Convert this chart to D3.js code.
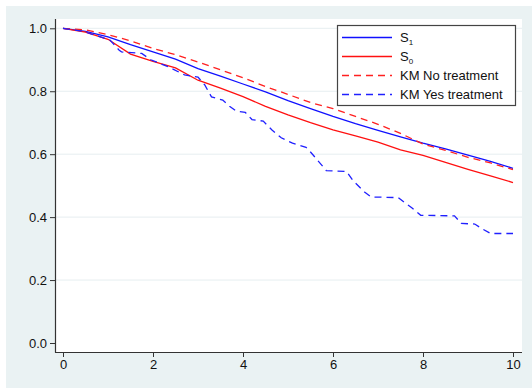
<!DOCTYPE html>
<html>
  <head>
    <meta charset="utf-8">
    <title></title>
    <script src="https://cdn.jsdelivr.net/npm/d3@7/dist/d3.min.js" charset="utf-8"></script>
    <style>
      body{margin:0;background:#fff;}
      text{font-family:"Liberation Sans", Arial, sans-serif;}
    </style>
    <script>
    // time points for the smooth curves
    let tGrid=[0, 0.5, 1, 1.5, 2, 2.5, 3, 3.5, 4, 4.5, 5, 5.5, 6, 6.5, 7, 7.5, 8, 8.5, 9, 9.5, 10];
    let s1=[1.0, 0.99, 0.973, 0.948, 0.925, 0.902, 0.872, 0.848, 0.823, 0.798, 0.77, 0.745, 0.72, 0.697, 0.676, 0.655, 0.635, 0.617, 0.597, 0.577, 0.555];
    let s0=[1.0, 0.988, 0.965, 0.918, 0.895, 0.874, 0.835, 0.81, 0.783, 0.752, 0.725, 0.70, 0.677, 0.658, 0.638, 0.614, 0.596, 0.574, 0.552, 0.531, 0.51];
    let kmNo=[1.0, 0.995, 0.98, 0.96, 0.936, 0.916, 0.893, 0.868, 0.843, 0.815, 0.79, 0.764, 0.745, 0.72, 0.695, 0.666, 0.632, 0.612, 0.59, 0.572, 0.551];

    // KM treated group has its own (coarser) time points
    let tYes=[0, 0.45, 0.85, 1.05, 1.25, 1.3, 1.75, 1.95, 2.35, 2.7, 3.0, 3.15, 3.3, 3.55, 3.7, 3.85, 4.05, 4.2, 4.45, 4.65, 4.85, 5.1, 5.4, 5.5, 5.65, 5.85, 6.3, 6.45, 6.7, 6.85, 7.45, 7.6, 7.75, 7.95, 8.7, 8.85, 9.15, 9.3, 9.5, 10];
    let kmYes=[1.0, 0.99, 0.972, 0.962, 0.93, 0.925, 0.92, 0.9, 0.877, 0.852, 0.845, 0.82, 0.782, 0.772, 0.752, 0.737, 0.733, 0.71, 0.705, 0.676, 0.652, 0.635, 0.622, 0.607, 0.582, 0.548, 0.545, 0.515, 0.48, 0.464, 0.462, 0.445, 0.43, 0.406, 0.404, 0.38, 0.378, 0.364, 0.348, 0.348];

    let xTicks=[0, 2, 4, 6, 8, 10];
    let yTicks=[0, 0.2, 0.4, 0.6, 0.8, 1.0];

    let legendNames=['S1', 'S0', 'KM No treatment', 'KM Yes treatment'];

    window.onload=function (){
      let svg=d3.select('body').append('svg').attr('width', 532).attr('height', 388);

      //background: graph region and plot region
      svg.append('rect').attr('x', 6).attr('y', 6).attr('width', 526).attr('height', 382).attr('fill', '#eaf2f3');
      svg.append('rect').attr('x', 55).attr('y', 19).attr('width', 467).attr('height', 333).attr('fill', '#fff');

      let x=d3.scaleLinear().domain([0, 10]).range([63, 513]);
      let y=d3.scaleLinear().domain([0, 1]).range([343, 28.3]);

      //grid lines
      svg.append('g').selectAll('line').data(yTicks.filter(d=>d>0)).enter().append('line')
        .attr('x1', 55).attr('x2', 522)
        .attr('y1', d=>y(d)).attr('y2', d=>y(d))
        .attr('stroke', '#e6eef0').attr('stroke-width', 1);

      //axes
      let yAxis=d3.axisLeft(y).tickValues(yTicks).tickFormat(d3.format('.1f')).tickSize(5).tickPadding(3);
      let xAxis=d3.axisBottom(x).tickValues(xTicks).tickFormat(d3.format('d')).tickSize(5).tickPadding(3);

      let gy=svg.append('g').attr('transform', 'translate(55,0)').call(yAxis);
      let gx=svg.append('g').attr('transform', 'translate(0,352)').call(xAxis);

      [gx, gy].forEach(g=>{
        g.select('.domain').remove();
        g.selectAll('line').attr('stroke', '#333');
        g.selectAll('text').attr('fill', '#111').style('font-size', '13px').style('font-family', '"Liberation Sans", Arial, sans-serif');
      });

      svg.append('line').attr('x1', 55.5).attr('x2', 55.5).attr('y1', 19).attr('y2', 352.5).attr('stroke', '#333').attr('stroke-width', 1.2);
      svg.append('line').attr('x1', 55).attr('x2', 522).attr('y1', 352.5).attr('y2', 352.5).attr('stroke', '#333').attr('stroke-width', 1.2);

      //curves
      let line=d3.line().x(d=>x(d[0])).y(d=>y(d[1]));

      let series=[
        {t: tGrid, v: s1, color: '#1010ff', dash: null},
        {t: tGrid, v: s0, color: '#ff1010', dash: null},
        {t: tGrid, v: kmNo, color: '#ff2020', dash: '7,5'},
        {t: tYes, v: kmYes, color: '#2020ff', dash: '7,5'}
      ];

      series.forEach(s=>{
        let pts=s.t.map((t, i)=>[t, s.v[i]]);
        svg.append('path')
          .attr('d', line(pts))
          .attr('fill', 'none')
          .attr('stroke', s.color)
          .attr('stroke-width', 1.3)
          .attr('stroke-dasharray', s.dash);
      });

      //legend
      let lg=svg.append('g');
      lg.append('rect').attr('x', 337.5).attr('y', 25.5).attr('width', 178).attr('height', 80)
        .attr('fill', '#fff').attr('stroke', '#444').attr('stroke-width', 1.2);

      series.forEach((s, i)=>{
        let cy=37.5+i*19;
        lg.append('line').attr('x1', 342).attr('x2', 392).attr('y1', cy).attr('y2', cy)
          .attr('stroke', s.color).attr('stroke-width', 1.3).attr('stroke-dasharray', s.dash);

        let txt=lg.append('text').attr('x', 400).attr('y', cy+4.5).style('font-size', '13px').attr('fill', '#111');
        let name=legendNames[i];
        if(i<2){
          txt.append('tspan').text(name[0]);
          txt.append('tspan').attr('dy', 3).style('font-size', '8px').text(name[1]);
        }else{
          txt.text(name);
        }
      });
    };
    </script>
  </head>
  <body>
  </body>
</html>
